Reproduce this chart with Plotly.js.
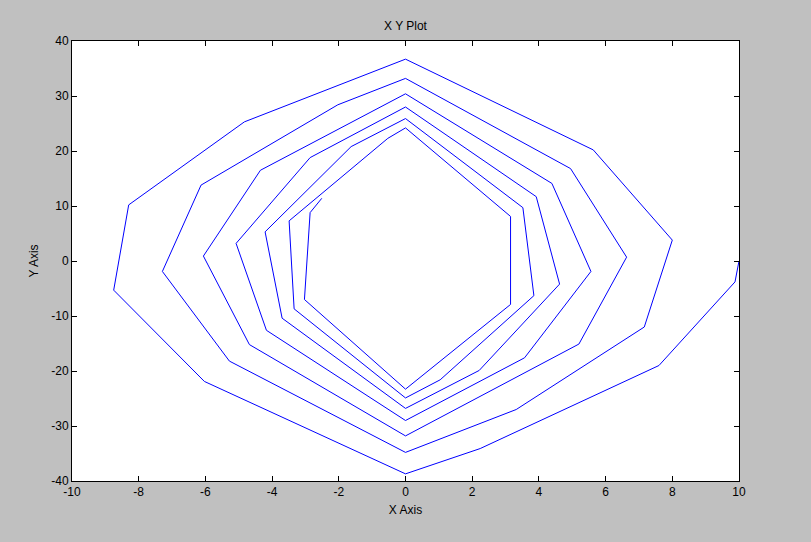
<!DOCTYPE html>
<html>
<head>
<meta charset="utf-8">
<script src="https://cdn.plot.ly/plotly-3.0.1.min.js"></script>
<style>
  html, body { margin: 0; padding: 0; background: #c0c0c0; }
  #chart { width: 811px; height: 542px; }
</style>
</head>
<body>
<div id="chart"></div>
<script>
// Spiral vertices, turn by turn
var turn0X = [10, 9.88, 7.6, 2.24, 0, -6.03, -8.75, -8.3, -4.83, 0, 5.63, 8.0];
var turn0Y = [0, -3.8, -19.0, -34.1, -38.7, -21.9, -5.3, 10.2, 25.3, 36.7, 20.2, 3.8];
var turn1X = [7.16, 3.32, 0, -5.28, -7.29, -6.13, -2.03, 0, 4.95, 6.63];
var turn1Y = [-12.0, -27.0, -34.8, -18.2, -1.9, 13.8, 28.4, 33.2, 16.8, 0.7];
var turn2X = [5.2, 0, -4.68, -6.06, -4.35, 0, 4.39, 5.56];
var turn2Y = [-15.1, -31.8, -15.2, 0.9, 16.5, 30.4, 14.1, -1.9];
var turn3X = [3.57, 0, -4.17, -5.08, -2.86, 0, 3.92, 4.62];
var turn3Y = [-17.6, -29.0, -12.6, 3.2, 18.8, 28.0, 11.7, -4.2];
var turn4X = [2.21, 0, -3.7, -4.21, -1.63, 0, 3.52, 3.85];
var turn4Y = [-19.9, -26.8, -10.4, 5.3, 20.8, 25.9, 9.7, -6.3];
var turn5X = [1.04, 0, -3.34, -3.49, -0.53, 0, 3.15, 3.15];
var turn5Y = [-21.6, -24.9, -8.7, 7.3, 22.3, 24.2, 8.1, -7.9];
var turn6X = [0, -3.03, -2.86, -2.51];
var turn6Y = [-23.3, -7.0, 8.8, 11.4];

var xTicks = [-10, -8, -6, -4, -2, 0, 2, 4, 6, 8, 10];
var yTicks = [-40, -30, -20, -10, 0, 10, 20, 30, 40];

var xs = [].concat(turn0X, turn1X, turn2X, turn3X, turn4X, turn5X, turn6X);
var ys = [].concat(turn0Y, turn1Y, turn2Y, turn3Y, turn4Y, turn5Y, turn6Y);

var fontFam = 'Liberation Sans Narrow, Arial Narrow, Liberation Sans, Arial, sans-serif';

var trace = {
  x: xs, y: ys, type: 'scatter', mode: 'lines',
  line: { color: '#0000ff', width: 1 },
  hoverinfo: 'skip'
};

var axisCommon = {
  showgrid: false, zeroline: false, showline: true, linecolor: '#000', linewidth: 1,
  mirror: 'ticks', ticks: 'inside', ticklen: 5, tickcolor: '#000', tickwidth: 1,
  tickfont: { family: fontFam, size: 12, color: '#000' }
};

var layout = {
  width: 811, height: 542,
  paper_bgcolor: '#c0c0c0', plot_bgcolor: '#ffffff',
  margin: { l: 72, r: 72, t: 41, b: 61 },
  showlegend: false,
  font: { family: fontFam, size: 12, color: '#000' },
  title: { text: 'X Y Plot', x: 0.5, xanchor: 'center', y: 1 - 26 / 542, yanchor: 'middle',
           font: { family: fontFam, size: 12, color: '#000' } },
  xaxis: Object.assign({}, axisCommon, {
    range: [-10, 10], tickvals: xTicks, ticktext: xTicks.map(String),
    title: { text: 'X Axis', standoff: 7, font: { family: fontFam, size: 12, color: '#000' } }
  }),
  yaxis: Object.assign({}, axisCommon, {
    range: [-40, 40], tickvals: yTicks, ticktext: yTicks.map(String),
    title: { text: 'Y Axis', standoff: 10, font: { family: fontFam, size: 12, color: '#000' } }
  })
};

Plotly.newPlot('chart', [trace], layout, { staticPlot: true, displayModeBar: false });
</script>
</body>
</html>
